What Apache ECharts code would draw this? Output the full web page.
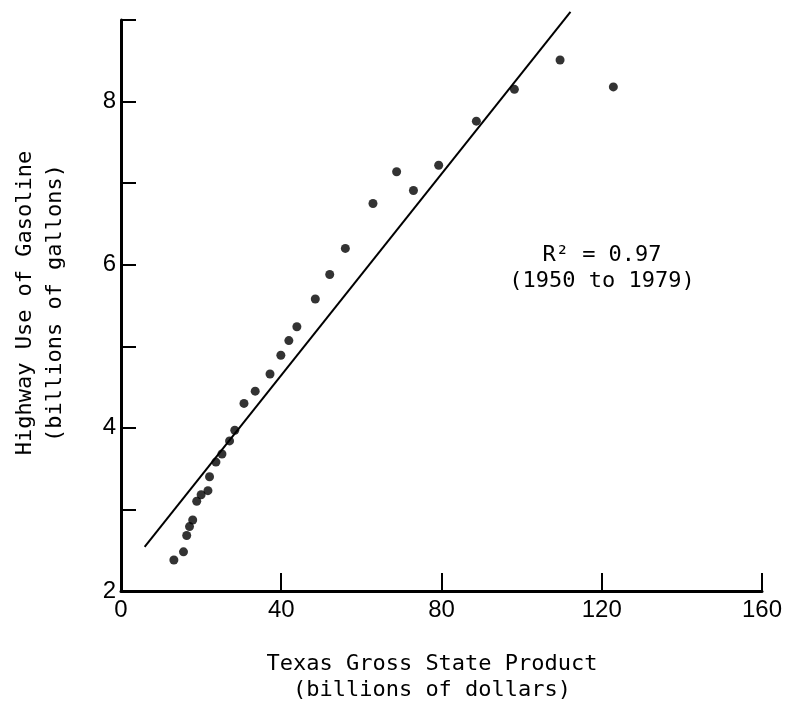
<!DOCTYPE html>
<html>
<head>
<meta charset="utf-8">
<script src="https://cdn.jsdelivr.net/npm/echarts@6/dist/echarts.min.js"></script>
<style>
  html, body { margin: 0; padding: 0; background: #fff; }
  #chart { width: 785px; height: 710px; }
</style>
</head>
<body>
<div id="chart"></div>
<script>
// Texas gross state product (billions of dollars), 1950 to 1979
var gsp = [13.2, 15.6, 16.4, 17.1, 17.9, 18.9, 20.0, 21.7, 22.1, 23.7,
  25.2, 27.1, 28.4, 30.7, 33.5, 37.2, 39.9, 41.9, 43.9, 48.5,
  52.1, 56.0, 62.9, 68.8, 73.0, 79.3, 88.7, 98.2, 109.6, 122.9]
// highway use of gasoline (billions of gallons)
var gasoline = [2.38, 2.48, 2.68, 2.79, 2.87, 3.10, 3.18, 3.23, 3.40, 3.58,
  3.68, 3.84, 3.97, 4.30, 4.45, 4.66, 4.89, 5.07, 5.24, 5.58,
  5.88, 6.20, 6.75, 7.14, 6.91, 7.22, 7.76, 8.15, 8.51, 8.18]
// fitted line, read at its two ends
var fitX = [5.9, 112.2]
var fitY = [2.54, 9.10]

var xTicks = [0, 40, 80, 120, 160]
var yTicks = [2, 4, 6, 8]

var mono = '"DejaVu Sans Mono", "Liberation Mono", monospace'
var sans = '"Liberation Sans Narrow", "Liberation Sans", Arial, sans-serif'

var chart = echarts.init(document.getElementById('chart'))

chart.setOption({
  backgroundColor: '#fff',
  animation: false,
  grid: {
    left: 121,
    right: 17,
    top: 20,
    bottom: 119
  },
  xAxis: {
    type: 'value',
    min: xTicks[0],
    max: xTicks[xTicks.length - 1],
    interval: 40,
    axisLine: { lineStyle: { color: '#000', width: 3 } },
    axisTick: { inside: true, length: 18, lineStyle: { color: '#000', width: 2 } },
    axisLabel: {
      margin: 7,
      color: '#000',
      fontSize: 24,
      fontFamily: sans,
      formatter: function (v) { return xTicks.indexOf(v) >= 0 ? String(v) : '' }
    },
    splitLine: { show: false }
  },
  yAxis: {
    type: 'value',
    min: 2,
    max: 9,
    interval: 1,
    axisLine: { show: true, lineStyle: { color: '#000', width: 3 } },
    axisTick: { show: true, inside: true, length: 15, lineStyle: { color: '#000', width: 2 } },
    axisLabel: {
      margin: 5,
      color: '#000',
      fontSize: 24,
      fontFamily: sans,
      formatter: function (v) { return yTicks.indexOf(v) >= 0 ? String(v) : '' }
    },
    splitLine: { show: false }
  },
  graphic: [
    {
      type: 'text',
      x: 432,
      y: 677,
      style: {
        text: 'Texas Gross State Product\n(billions of dollars)',
        font: '22px ' + mono,
        fill: '#000',
        textAlign: 'center',
        textVerticalAlign: 'middle',
        lineHeight: 26
      }
    },
    {
      type: 'text',
      x: 40,
      y: 303,
      rotation: Math.PI / 2,
      style: {
        text: 'Highway Use of Gasoline\n(billions of gallons)',
        font: '22px ' + mono,
        fill: '#000',
        textAlign: 'center',
        textVerticalAlign: 'middle',
        lineHeight: 30
      }
    },
    {
      type: 'text',
      x: 602,
      y: 268,
      style: {
        text: 'R² = 0.97\n(1950 to 1979)',
        font: '22px ' + mono,
        fill: '#000',
        textAlign: 'center',
        textVerticalAlign: 'middle',
        lineHeight: 26
      }
    }
  ],
  series: [
    {
      name: 'fit',
      type: 'line',
      data: fitX.map(function (x, i) { return [x, fitY[i]] }),
      symbol: 'none',
      clip: false,
      lineStyle: { color: '#000', width: 2 }
    },
    {
      name: 'gasoline',
      type: 'scatter',
      data: gsp.map(function (x, i) { return [x, gasoline[i]] }),
      symbolSize: 9,
      itemStyle: { color: '#000' }
    }
  ]
})
</script>
</body>
</html>
